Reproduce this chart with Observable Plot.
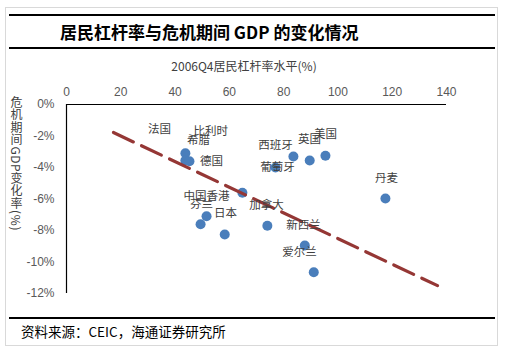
<!DOCTYPE html>
<html>
<head>
<meta charset="utf-8">
<script src="https://cdn.jsdelivr.net/npm/d3@7"></script>
<script src="https://cdn.jsdelivr.net/npm/@observablehq/plot@0.6"></script>
<style>
  html, body { margin: 0; padding: 0; background: #fff; }
  #wrap { position: relative; width: 506px; height: 352px; background: #fff; overflow: hidden; }
  #wrap svg { position: absolute; left: 0; top: 0; }
  .abs { position: absolute; }
  .hline { position: absolute; height: 1.5px; background: #000; }
</style>
</head>
<body>
<div id="wrap">
  <div class="abs" style="left:5px;top:7px;width:491px;height:337px;border:1.5px solid #d9d9d9;"></div>
  <div class="hline" style="left:9px;top:14px;width:486px;"></div>
  <div class="hline" style="left:9px;top:47px;width:486px;"></div>
  <div class="hline" style="left:9px;top:317px;width:486px;"></div>
  <div id="title" class="abs" style="left:60px;top:20px;font:bold 17px 'Noto Sans CJK SC',sans-serif;color:#000;white-space:nowrap;line-height:24px;"></div>
  <div id="xtitle" class="abs" style="left:0;width:488px;top:58px;text-align:center;font:12px 'Noto Sans CJK SC',sans-serif;color:#404040;line-height:16px;white-space:nowrap;"></div>
  <div id="ytitle" class="abs" style="left:9px;top:96px;writing-mode:vertical-rl;text-orientation:mixed;font:12px 'Noto Sans CJK SC',sans-serif;letter-spacing:0.6px;color:#404040;line-height:14px;white-space:nowrap;"></div>
  <div id="footer" class="abs" style="left:21px;top:322px;font:13.5px 'Noto Sans CJK SC',sans-serif;color:#000;line-height:18px;white-space:nowrap;"></div>
  <div id="chart"></div>
</div>
<script>
const titleText = "居民杠杆率与危机期间 GDP 的变化情况";
const xTitle = "2006Q4居民杠杆率水平(%)";
const yTitle = "危机期间GDP变化率(%)";
const footerText = "资料来源：CEIC，海通证券研究所";

const xTicks = [0, 20, 40, 60, 80, 100, 120, 140];
const yTicks = [0, -2, -4, -6, -8, -10, -12];

// scatter points: household leverage 2006Q4 (%) vs GDP change during crisis (%)
const pointX = [43.8, 43.8, 45.3, 64.8, 51.6, 49.4, 58.3, 74.0, 87.8, 91.1, 83.6, 89.6, 95.4, 77.0, 117.5];
const pointY = [-3.1, -3.55, -3.6, -5.6, -7.1, -7.6, -8.25, -7.7, -8.95, -10.65, -3.3, -3.55, -3.25, -4.0, -5.97];

// data labels (anchored in data units)
const labelText = ["法国", "比利时", "希腊", "德国", "中国香港", "芬兰", "日本", "加拿大", "新西兰", "爱尔兰", "西班牙", "英国", "美国", "葡萄牙", "丹麦"];
const labelX = [34.3, 53.1, 48.6, 53.4, 51.6, 49.7, 58.6, 73.7, 87.3, 85.8, 77.0, 89.5, 95.4, 77.7, 117.9];
const labelY = [-1.59, -1.71, -2.29, -3.62, -5.84, -6.35, -6.92, -6.41, -7.68, -9.40, -2.60, -2.22, -1.90, -4.0, -4.7];

// linear trend line endpoints
const trendX = [17.3, 136.7];
const trendY = [-1.78, -11.5];

document.getElementById("title").textContent = titleText;
document.getElementById("xtitle").textContent = xTitle;
document.getElementById("ytitle").textContent = yTitle;
document.getElementById("footer").textContent = footerText;

const points = pointX.map((x, i) => ({x, y: pointY[i]}));
const labels = labelText.map((t, i) => ({t, x: labelX[i], y: labelY[i]}));
const trend = trendX.map((x, i) => ({x, y: trendY[i]}));

const chart = Plot.plot({
  width: 506,
  height: 352,
  marginLeft: 66,
  marginRight: 60,
  marginTop: 104,
  marginBottom: 59,
  style: {background: "transparent", fontFamily: "'Liberation Sans', Arial, sans-serif"},
  x: {domain: [0, 140], axis: null},
  y: {domain: [-12, 0], axis: null},
  marks: [
    Plot.axisX(xTicks, {anchor: "top", tickSize: 0, tickPadding: 9, fontSize: 12, fill: "#595959", label: null}),
    Plot.axisY(yTicks, {anchor: "left", tickSize: 0, tickPadding: 12, fontSize: 12, fill: "#595959", tickFormat: d => d + "%", label: null}),
    Plot.ruleY([0], {x1: 0, x2: 140, stroke: "#000", strokeWidth: 1.2}),
    Plot.ruleX([0], {y1: -12, y2: 0, stroke: "#000", strokeWidth: 1.2}),
    Plot.dot(points, {x: "x", y: "y", r: 5, fill: "#4a7ebb", stroke: "none"}),
    Plot.line(trend, {x: "x", y: "y", stroke: "#953735", strokeWidth: 3.2, strokeDasharray: "22,9"}),
    Plot.text(labels, {x: "x", y: "y", text: "t", fontSize: 11.5, fill: "#404040", fontFamily: "'Noto Sans CJK SC', sans-serif"})
  ]
});
document.getElementById("chart").appendChild(chart);
</script>
</body>
</html>
